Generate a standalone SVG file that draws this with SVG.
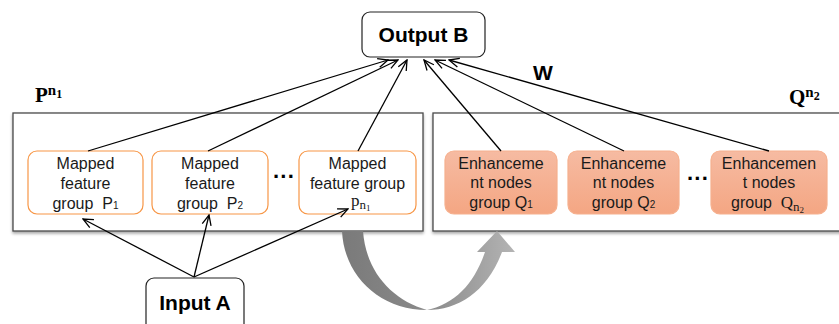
<svg xmlns="http://www.w3.org/2000/svg" width="839" height="324" viewBox="0 0 839 324">
<defs>
<style>
.panel{fill:#fff;stroke:#4a4a4a;stroke-width:1.3}
.map{fill:#fff;stroke:#f79646;stroke-width:1.2}
.enh{fill:url(#eg);stroke:#f6b08e;stroke-width:1.2}
.io{fill:#fff;stroke:#222;stroke-width:1.2}
.t{font-family:"Liberation Sans",Arial,sans-serif;font-size:16px;fill:#1a1a1a;text-anchor:middle}
.b{font-family:"Liberation Sans",Arial,sans-serif;font-size:21px;font-weight:bold;fill:#000;text-anchor:middle}
.m{font-family:"Liberation Serif","DejaVu Serif",serif;font-weight:bold;fill:#000;font-size:21px}
.c{fill:none;stroke:#000;stroke-width:1.3;marker-end:url(#ah)}
.dots{font-family:"Liberation Sans",Arial,sans-serif;font-size:22px;font-weight:bold;fill:#000}
</style>
<linearGradient id="eg" x1="0" y1="0" x2="0" y2="1">
<stop offset="0" stop-color="#f6bba2"/>
<stop offset="1" stop-color="#f4a683"/>
</linearGradient>
<linearGradient id="ag" x1="0" y1="0" x2="1" y2="0">
<stop offset="0" stop-color="#7a7a7a"/>
<stop offset="0.5" stop-color="#8a8a8a"/>
<stop offset="1" stop-color="#b4b4b4"/>
</linearGradient>
<filter id="sh" x="-5%" y="-10%" width="110%" height="130%">
<feGaussianBlur in="SourceAlpha" stdDeviation="1.5"/>
<feOffset dx="0" dy="2"/>
<feComponentTransfer><feFuncA type="linear" slope="0.35"/></feComponentTransfer>
<feMerge><feMergeNode/><feMergeNode in="SourceGraphic"/></feMerge>
</filter>
<marker id="ah" viewBox="0 0 12 12" refX="11" refY="6" markerWidth="12" markerHeight="12" markerUnits="userSpaceOnUse" orient="auto">
<path d="M1,1.5 L11,6 L1,10.5" fill="none" stroke="#000" stroke-width="1.3"/>
</marker>
</defs>

<g id="panel-P">
<rect class="panel" x="13" y="113" width="410" height="118" filter="url(#sh)"/>
<text class="m" x="35" y="102">P<tspan style="font-size:15px" dy="-7">n</tspan><tspan style="font-size:12px" dy="3">1</tspan></text>
</g>
<g id="panel-Q">
<rect class="panel" x="433" y="113" width="412" height="118" filter="url(#sh)"/>
<text class="m" x="789" y="104">Q<tspan style="font-size:15px" dy="-7">n</tspan><tspan style="font-size:12px" dy="3">2</tspan></text>
</g>

<g id="curved-arrow">
<path d="M342,231 C344,276 380,310 427,310 C458,310 487,292 502,252 L515,252 L497,231 L477,252 L485,252 C474,284 455,304 427,310 C392,300 366,272 363,231 Z" fill="url(#ag)"/>
</g>

<g id="output-B">
<rect class="io" x="362" y="12" width="123" height="45" rx="8"/>
<text class="b" x="423.5" y="42">Output B</text>
</g>
<g id="input-A">
<rect class="io" x="146" y="278" width="98" height="56" rx="8"/>
<text class="b" x="195" y="310">Input A</text>
</g>

<g id="map1">
<rect class="map" x="28" y="151" width="115" height="63" rx="9"/>
<text class="t" x="85.5" y="169">Mapped</text>
<text class="t" x="85.5" y="189">feature</text>
<text class="t" x="85.5" y="209">group &#160;P<tspan font-size="10">1</tspan></text>
</g>
<g id="map2">
<rect class="map" x="152" y="151" width="116" height="63" rx="9"/>
<text class="t" x="210" y="169">Mapped</text>
<text class="t" x="210" y="189">feature</text>
<text class="t" x="210" y="209">group &#160;P<tspan font-size="10">2</tspan></text>
</g>
<g id="map3">
<rect class="map" x="299" y="151" width="117" height="63" rx="9"/>
<text class="t" x="357.5" y="169">Mapped</text>
<text class="t" x="357.5" y="189">feature group</text>
<text x="351" y="206" font-family="'Liberation Serif','DejaVu Serif',serif" font-size="17" fill="#1a1a1a">p<tspan font-size="13" dy="3">n</tspan><tspan font-size="9" dy="2">1</tspan></text>
</g>
<text class="dots" x="273" y="184">···</text>

<g id="enh1">
<rect class="enh" x="445" y="151" width="112" height="63" rx="9"/>
<text class="t" x="501" y="169">Enhanceme</text>
<text class="t" x="501" y="188">nt nodes</text>
<text class="t" x="501" y="208">group Q<tspan font-size="10">1</tspan></text>
</g>
<g id="enh2">
<rect class="enh" x="568" y="151" width="111" height="63" rx="9"/>
<text class="t" x="623.5" y="169">Enhanceme</text>
<text class="t" x="623.5" y="188">nt nodes</text>
<text class="t" x="623.5" y="208">group Q<tspan font-size="10">2</tspan></text>
</g>
<g id="enh3">
<rect class="enh" x="711" y="151" width="116" height="63" rx="9"/>
<text class="t" x="769" y="169">Enhancemen</text>
<text class="t" x="769" y="188">t nodes</text>
<text x="731" y="208" font-family="'Liberation Sans',Arial,sans-serif" font-size="16" fill="#1a1a1a">group &#160;<tspan font-family="'Liberation Serif','DejaVu Serif',serif" font-size="17">Q</tspan><tspan font-family="'Liberation Serif','DejaVu Serif',serif" font-size="13" dy="3">n</tspan><tspan font-family="'Liberation Serif','DejaVu Serif',serif" font-size="9" dy="2">2</tspan></text>
</g>
<text class="dots" x="687" y="186">···</text>

<text class="b" x="543" y="80" font-size="20">W</text>

<g id="connectors">
<line class="c" x1="88" y1="151" x2="388" y2="60"/>
<line class="c" x1="208" y1="151" x2="398" y2="60"/>
<line class="c" x1="358" y1="151" x2="407" y2="60"/>
<line class="c" x1="501" y1="151" x2="424" y2="60"/>
<line class="c" x1="624" y1="151" x2="435" y2="60"/>
<line class="c" x1="769" y1="151" x2="449" y2="60"/>
<line class="c" x1="194" y1="277" x2="83" y2="219"/>
<line class="c" x1="194" y1="277" x2="209" y2="215"/>
<line class="c" x1="194" y1="277" x2="348" y2="209"/>
</g>
</svg>
